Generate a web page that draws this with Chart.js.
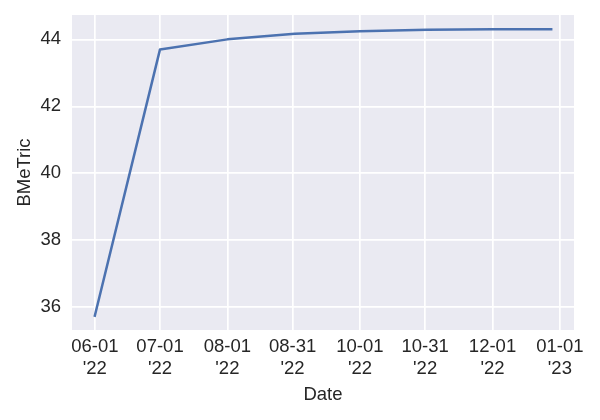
<!DOCTYPE html>
<html>
<head>
<meta charset="utf-8">
<script src="https://cdn.jsdelivr.net/npm/chart.js@4"></script>
<style>
  html, body { margin: 0; padding: 0; background: #ffffff; }
  #wrap { width: 600px; height: 420px; }
</style>
</head>
<body>
<div id="wrap"><canvas id="c" width="600" height="420"></canvas></div>
<script>
// ---- data ----
const dates = ["2022-06-01", "2022-07-01", "2022-08-01", "2022-09-01", "2022-10-01", "2022-11-01", "2022-12-01", "2022-12-28"];
const bmetric = [35.75, 43.70, 44.00, 44.17, 44.24, 44.29, 44.30, 44.30];
const xTickDates = ["2022-06-01", "2022-07-01", "2022-08-01", "2022-08-31", "2022-10-01", "2022-10-31", "2022-12-01", "2023-01-01"];
const xTickLabels = [["06-01", "'22"], ["07-01", "'22"], ["08-01", "'22"], ["08-31", "'22"], ["10-01", "'22"], ["10-31", "'22"], ["12-01", "'22"], ["01-01", "'23"]];
const yTicks = [36, 38, 40, 42, 44];

// ---- helpers ----
const DAY = 86400000;
const base = Date.parse(dates[0]);
const toDay = s => (Date.parse(s) - base) / DAY;
const xs = dates.map(toDay);
const points = xs.map((x, i) => ({ x: x, y: bmetric[i] }));
const xTickVals = xTickDates.map(toDay);

const xMinD = Math.min(...xs), xMaxD = Math.max(...xs);
const yMinD = Math.min(...bmetric), yMaxD = Math.max(...bmetric);
const xm = (xMaxD - xMinD) * 0.05, ym = (yMaxD - yMinD) * 0.05;

const FONT = "'Liberation Sans', Arial, 'DejaVu Sans', sans-serif";
const TXT = '#262626';

const bgPlugin = {
  id: 'bg',
  beforeDraw(chart) {
    const { ctx, chartArea: a } = chart;
    ctx.save();
    ctx.fillStyle = '#EAEAF2';
    ctx.fillRect(a.left, a.top, a.right - a.left, a.bottom - a.top);
    ctx.restore();
  }
};

new Chart(document.getElementById('c'), {
  type: 'line',
  data: {
    datasets: [{
      data: points,
      borderColor: '#4C72B0',
      borderWidth: 2.5,
      pointRadius: 0,
      tension: 0,
      fill: false,
      borderCapStyle: 'square',
      borderJoinStyle: 'round'
    }]
  },
  options: {
    responsive: false,
    animation: false,
    devicePixelRatio: 1,
    layout: { padding: { left: 0, right: 26, top: 15, bottom: 0 } },
    plugins: { legend: { display: false }, tooltip: { enabled: false } },
    scales: {
      x: {
        type: 'linear',
        min: xMinD - xm,
        max: xMaxD + xm,
        afterBuildTicks(scale) { scale.ticks = xTickVals.map(v => ({ value: v })); },
        afterFit(scale) { scale.height = 90; scale.paddingLeft = 0; scale.paddingRight = 0; },
        grid: { color: '#ffffff', lineWidth: 1.7, drawTicks: false },
        border: { display: false },
        ticks: {
          padding: 6.8,
          color: TXT,
          maxRotation: 0,
          autoSkip: false,
          font: { family: FONT, size: 18.5, lineHeight: 1.14 },
          callback(value, index) { return xTickLabels[index]; }
        },
        title: {
          display: true,
          text: 'Date',
          color: TXT,
          font: { family: FONT, size: 18.5, lineHeight: 1.2 },
          padding: { top: 0, bottom: 14 }
        }
      },
      y: {
        type: 'linear',
        min: yMinD - ym,
        max: yMaxD + ym,
        afterBuildTicks(scale) { scale.ticks = yTicks.map(v => ({ value: v })); },
        afterFit(scale) { scale.width = 72; scale.paddingTop = 0; scale.paddingBottom = 0; },
        grid: { color: '#ffffff', lineWidth: 1.7, drawTicks: false },
        border: { display: false },
        ticks: {
          padding: 11,
          color: TXT,
          font: { family: FONT, size: 18.5 },
          callback(value) { return String(value); }
        },
        title: {
          display: true,
          text: 'BMeTric',
          color: TXT,
          font: { family: FONT, size: 18.5, lineHeight: 1.2 },
          padding: { top: 14, bottom: 0 }
        }
      }
    }
  },
  plugins: [bgPlugin]
});
</script>
</body>
</html>
